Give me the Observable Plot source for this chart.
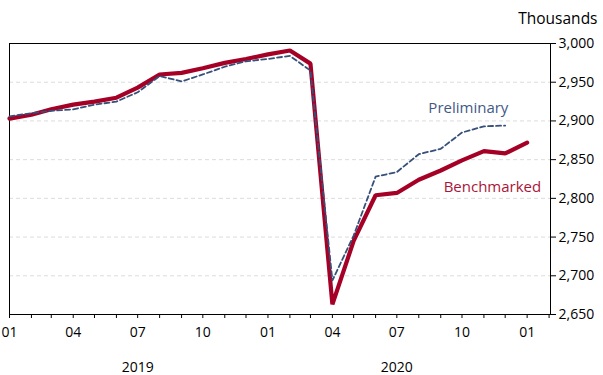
<!DOCTYPE html>
<html>
<head>
<meta charset="utf-8">
<script src="https://cdn.jsdelivr.net/npm/d3@7"></script>
<script src="https://cdn.jsdelivr.net/npm/@observablehq/plot@0.6"></script>
<style>
  html, body { margin: 0; padding: 0; background: #fff; }
  #chart { width: 603px; height: 375px; }
</style>
</head>
<body>
<div id="chart"></div>
<script>
// Monthly data, Jan 2019 onward (thousands)
const months = d3.utcMonth.range(new Date(Date.UTC(2019, 0, 1)), new Date(Date.UTC(2021, 1, 1)));
const benchmarked = [2903, 2908, 2915, 2921, 2925, 2930, 2943, 2960, 2962, 2968, 2975, 2980,
                     2986, 2991, 2974, 2663, 2745, 2804, 2807, 2824, 2836, 2849, 2861, 2858, 2872];
const preliminary = [2906, 2910, 2913, 2915, 2921, 2925, 2937, 2958, 2951, 2960, 2970, 2977,
                     2980, 2984, 2965, 2694, 2752, 2828, 2834, 2857, 2864, 2885, 2893, 2894];
const yTicks = [2650, 2700, 2750, 2800, 2850, 2900, 2950, 3000];
const yearLabels = [{date: new Date(Date.UTC(2019, 6, 1)), label: "2019"},
                    {date: new Date(Date.UTC(2020, 6, 1)), label: "2020"}];
const seriesLabels = [
  {date: new Date(Date.UTC(2020, 9, 10)), value: 2917, label: "Preliminary", color: "#3f5a86"},
  {date: new Date(Date.UTC(2020, 10, 13)), value: 2814, label: "Benchmarked", color: "#a8163a"}
];

const bench = benchmarked.map((v, i) => ({date: months[i], value: v}));
const prel = preliminary.map((v, i) => ({date: months[i], value: v}));

const font = "'Open Sans', sans-serif";

const chart = Plot.plot({
  width: 603,
  height: 375,
  marginLeft: 9,
  marginRight: 53,
  marginTop: 43,
  marginBottom: 61,
  style: {fontFamily: font, fontSize: "14px", color: "#000", background: "#fff"},
  x: {type: "utc", domain: [new Date(Date.UTC(2019, 0, 1)), new Date(Date.UTC(2021, 1, 3))]},
  y: {domain: [2650, 3000]},
  marks: [
    Plot.gridY(yTicks, {stroke: "#dcdcdc", strokeOpacity: 1, strokeDasharray: "4,3"}),
    Plot.frame({stroke: "#000", strokeWidth: 1}),
    Plot.axisX({ticks: d3.utcMonth.every(1), tickSize: 4, tickFormat: () => "", stroke: "#000"}),
    Plot.axisX({ticks: d3.utcMonth.every(3), tickSize: 0, tickPadding: 13, tickFormat: d3.utcFormat("%m"), fontSize: 14}),
    Plot.axisX(yearLabels.map(d => d.date), {tickSize: 0, tickPadding: 48, tickFormat: (d) => String(d.getUTCFullYear()), fontSize: 14}),
    Plot.axisY({anchor: "right", ticks: yTicks, tickSize: 5, tickPadding: 3, tickFormat: d3.format(","), label: null, fontSize: 14}),
    Plot.text(["Thousands"], {frameAnchor: "top-right", dx: 47, dy: -31, textAnchor: "end", fontSize: 15.5, fill: "#000"}),
    Plot.line(bench, {x: "date", y: "value", stroke: "#a50026", strokeWidth: 4.2, strokeLinejoin: "miter"}),
    Plot.line(prel, {x: "date", y: "value", stroke: "#36507a", strokeWidth: 1.8, strokeDasharray: "5,3"}),
    Plot.text(seriesLabels, {x: "date", y: "value", text: "label", fill: "color", fontSize: 15})
  ]
});
document.getElementById("chart").appendChild(chart);
</script>
</body>
</html>
